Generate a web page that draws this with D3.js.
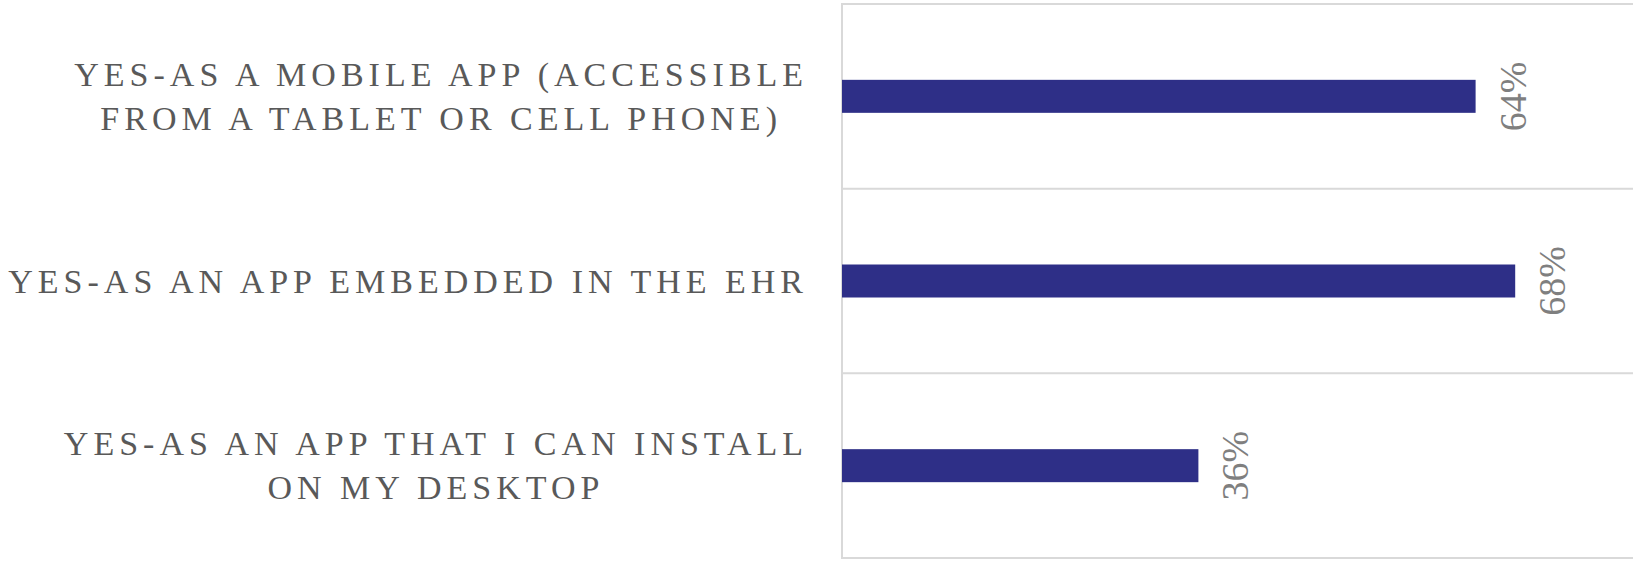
<!DOCTYPE html>
<html>
<head>
<meta charset="utf-8">
<script src="https://cdn.jsdelivr.net/npm/d3@7"></script>
<style>
  html, body { margin: 0; padding: 0; background: #fff; }
  svg { display: block; }
</style>
</head>
<body>
<svg id="chart"></svg>
<script>
const categories = [
  "YES-AS A MOBILE APP (ACCESSIBLE FROM A TABLET OR CELL PHONE)",
  "YES-AS AN APP EMBEDDED IN THE EHR",
  "YES-AS AN APP THAT I CAN INSTALL ON MY DESKTOP"
];
const labelLines = [
  ["YES-AS A MOBILE APP (ACCESSIBLE", "FROM A TABLET OR CELL PHONE)"],
  ["YES-AS AN APP EMBEDDED IN THE EHR"],
  ["YES-AS AN APP THAT I CAN INSTALL", "ON MY DESKTOP"]
];
const values = [0.64, 0.68, 0.36];

const width = 1633, height = 562;
const margin = { top: 4, right: 0, bottom: 4, left: 842 };

const svg = d3.select("#chart").attr("width", width).attr("height", height);

const x = d3.scaleLinear().domain([0, 0.8]).range([margin.left, margin.left + 792]);
const y = d3.scaleBand().domain(categories).range([margin.top, height - margin.bottom]).padding(0);
const barH = 33;

// horizontal grid lines at band edges
const edges = categories.map(c => y(c)).concat([y.range()[1]]);
svg.append("g")
  .selectAll("line")
  .data(edges)
  .join("line")
  .attr("x1", margin.left)
  .attr("x2", width)
  .attr("y1", d => d)
  .attr("y2", d => d)
  .attr("stroke", "#d9d9d9")
  .attr("stroke-width", 2);

// category axis line
svg.append("line")
  .attr("x1", margin.left).attr("x2", margin.left)
  .attr("y1", y.range()[0] - 1).attr("y2", y.range()[1] + 1)
  .attr("stroke", "#d9d9d9")
  .attr("stroke-width", 2);

// bars
svg.append("g")
  .selectAll("rect")
  .data(values)
  .join("rect")
  .attr("x", x(0))
  .attr("y", (d, i) => y(categories[i]) + y.bandwidth() / 2 - barH / 2)
  .attr("width", d => x(d) - x(0))
  .attr("height", barH)
  .attr("fill", "#2e2f87");

// value labels, rotated
svg.append("g")
  .selectAll("text")
  .data(values)
  .join("text")
  .attr("transform", (d, i) =>
    `translate(${x(d) + 50},${y(categories[i]) + y.bandwidth() / 2}) rotate(-90)`)
  .attr("text-anchor", "middle")
  .attr("font-family", "'Liberation Serif', 'Times New Roman', serif")
  .attr("font-size", 38)
  .attr("fill", "#7f7f7f")
  .text(d => d3.format(".0%")(d));

// category labels: block right-aligned, lines centred inside it
const lineH = 44;
const labelRight = 808;
const lab = svg.append("g")
  .selectAll("text")
  .data(labelLines)
  .join("text")
  .attr("text-anchor", "middle")
  .attr("font-family", "'Liberation Serif', 'Times New Roman', serif")
  .attr("font-size", 34)
  .attr("letter-spacing", 5)
  .attr("fill", "#595959");

lab.selectAll("tspan")
  .data(d => d)
  .join("tspan")
  .attr("x", 0)
  .attr("dy", (d, i) => i === 0 ? 0 : lineH)
  .text(d => d);

lab.attr("transform", function (d, i) {
  const widest = d3.max(d3.select(this).selectAll("tspan").nodes(), n => n.getComputedTextLength());
  const cx = labelRight - widest / 2;
  const cy = y(categories[i]) + y.bandwidth() / 2;
  const first = cy - (d.length - 1) * lineH / 2 + 11.5;
  return `translate(${cx},${first})`;
});
</script>
</body>
</html>
